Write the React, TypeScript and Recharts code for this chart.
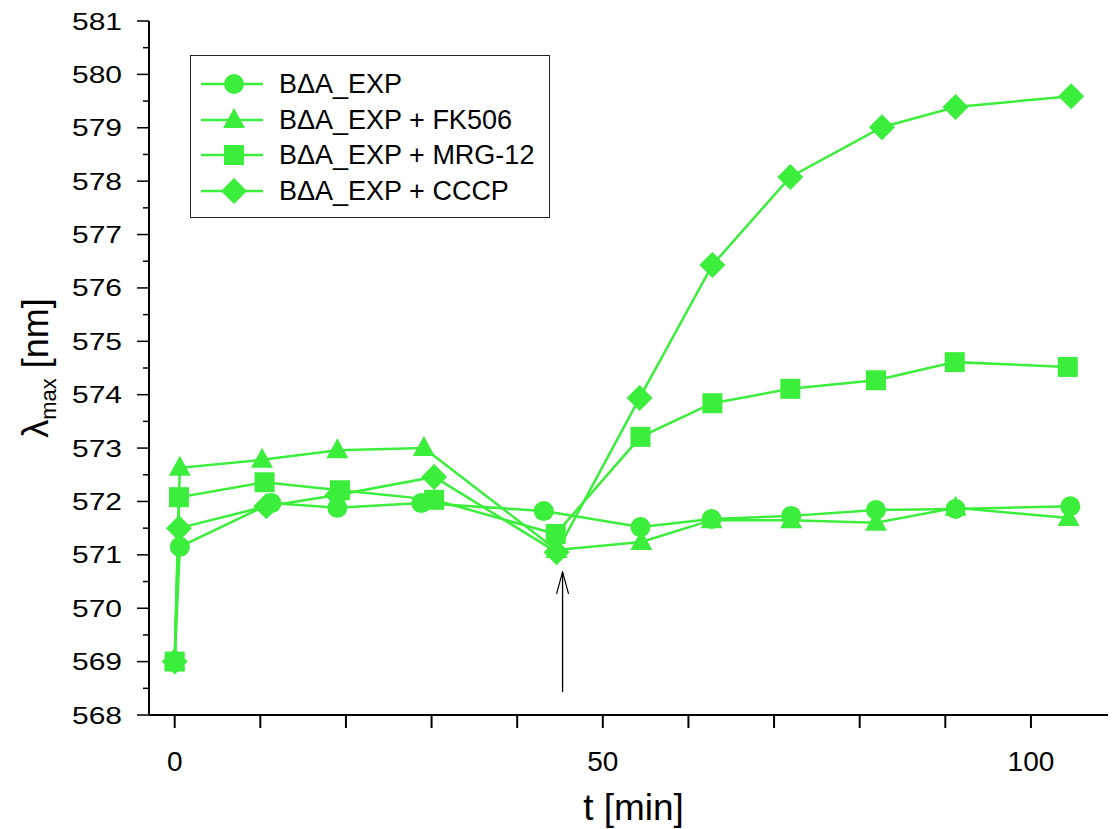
import { LineChart, Line, XAxis, YAxis, ReferenceLine, Legend } from 'recharts';

const GREEN = '#3cee3c';

// time points (min) per series
const tExp = [0, 0.6, 11.3, 19.0, 28.8, 43.1, 54.4, 62.7, 72.0, 81.9, 91.2, 104.6];
const tFk = [0, 0.6, 10.2, 19.0, 29.1, 44.6, 54.5, 62.7, 72.0, 81.9, 91.2, 104.4];
const tMrg = [0, 0.5, 10.5, 19.3, 30.3, 44.5, 54.4, 62.8, 71.9, 81.9, 91.1, 104.3];
const tCccp = [0, 0.5, 10.7, 19.0, 30.3, 44.6, 54.3, 62.8, 71.9, 82.6, 91.2, 104.7];

// lambda max (nm)
const expVals = [569.0, 571.15, 571.97, 571.88, 571.97, 571.82, 571.52, 571.67, 571.73, 571.84, 571.86, 571.91];
const fkVals = [569.0, 572.63, 572.78, 572.96, 573.0, 571.09, 571.24, 571.65, 571.65, 571.6, 571.88, 571.69];
const mrgVals = [569.0, 572.08, 572.36, 572.21, 572.03, 571.39, 573.21, 573.84, 574.11, 574.27, 574.61, 574.52];
const cccpVals = [569.0, 571.5, 571.91, 572.12, 572.46, 571.05, 573.94, 576.43, 578.08, 579.01, 579.39, 579.59];

const seriesNames = ['B\u0394A_EXP', 'B\u0394A_EXP + FK506', 'B\u0394A_EXP + MRG-12', 'B\u0394A_EXP + CCCP'];
const seriesShapes = ['circle', 'triangle', 'square', 'diamond'];

const xTicks = [0, 10, 20, 30, 40, 50, 60, 70, 80, 90, 100];
const yTicks = Array.from({ length: 27 }, (_, i) => 568 + i * 0.5);

// arrow marking addition time
const arrowT = 45.3;
const arrowFrom = 568.43;
const arrowTo = 570.68;

const toRows = (ts: number[], vs: number[]) => ts.map((t, i) => ({ t, v: vs[i] }));

const seriesData = [
  toRows(tExp, expVals),
  toRows(tFk, fkVals),
  toRows(tMrg, mrgVals),
  toRows(tCccp, cccpVals),
];

const FONT = '"Liberation Sans", Arial, sans-serif';

function MarkerShape({ shape, cx, cy }: { shape: string; cx: number; cy: number }) {
  if (shape === 'circle') return <circle cx={cx} cy={cy} r={10} fill={GREEN} />;
  if (shape === 'square') return <rect x={cx - 10} y={cy - 10} width={20} height={20} fill={GREEN} />;
  if (shape === 'triangle')
    return <polygon points={`${cx},${cy - 12} ${cx + 11},${cy + 8} ${cx - 11},${cy + 8}`} fill={GREEN} />;
  return <polygon points={`${cx},${cy - 13} ${cx + 13},${cy} ${cx},${cy + 13} ${cx - 13},${cy}`} fill={GREEN} />;
}

const YTick = (props: any) => {
  const { x, y, payload } = props;
  const major = Number.isInteger(payload.value);
  return (
    <g>
      <line x1={x} x2={x - (major ? 12 : 6)} y1={y} y2={y} stroke="#000" strokeWidth={1.5} />
      {major && (
        <text
          x={x - 27}
          y={y + 8.5}
          textAnchor="end"
          fontSize={24}
          fontFamily={FONT}
          fill="#000"
          textLength={50}
          lengthAdjust="spacingAndGlyphs"
        >
          {payload.value}
        </text>
      )}
    </g>
  );
};

const LegendBox = () => (
  <div
    style={{
      width: 360,
      height: 163,
      border: '1.5px solid #222',
      background: '#fff',
      boxSizing: 'border-box',
      position: 'relative',
      fontFamily: FONT,
    }}
  >
    {seriesNames.map((name, i) => (
      <div key={name} style={{ position: 'absolute', left: 0, top: 10 + i * 35.7, height: 36, width: 360 }}>
        <svg width={80} height={36} style={{ position: 'absolute', left: 0, top: 0 }}>
          <line x1={10} x2={72} y1={18} y2={18} stroke={GREEN} strokeWidth={2.5} />
          <MarkerShape shape={seriesShapes[i]} cx={43} cy={18} />
        </svg>
        <span
          style={{
            position: 'absolute',
            left: 88,
            top: 0,
            lineHeight: '36px',
            fontSize: 27,
            color: '#000',
            whiteSpace: 'nowrap',
          }}
        >
          {name}
        </span>
      </div>
    ))}
  </div>
);

export default function App() {
  return (
    <div style={{ position: 'absolute', left: 0, top: 0, background: '#fff' }}>
      <LineChart width={1118} height={829} margin={{ top: 21, right: 10, bottom: 0, left: 0 }}>
        <defs>
          <marker id="arrowHead" viewBox="0 0 14 24" refX={7} refY={1} markerWidth={14} markerHeight={24} markerUnits="userSpaceOnUse" orient="0">
            <path d="M1,23 L7,1 L13,23" fill="none" stroke="#000" strokeWidth={1.2} />
          </marker>
        </defs>
        <XAxis
          type="number"
          dataKey="t"
          domain={[-3, 109]}
          allowDataOverflow
          ticks={xTicks}
          tickFormatter={(v: number) => (v % 50 === 0 ? String(v) : '')}
          height={114}
          tickSize={13}
          tickMargin={23}
          stroke="#000"
          strokeWidth={2}
          tick={{ fill: '#000', fontSize: 28, fontFamily: FONT }}
          label={({ viewBox }: any) => (
            <text
              x={viewBox.x + viewBox.width / 2 + 5}
              y={820}
              textAnchor="middle"
              fontSize={37}
              fontFamily={FONT}
              fill="#000"
            >
              t [min]
            </text>
          )}
        />
        <YAxis
          type="number"
          domain={[568, 581]}
          allowDataOverflow
          ticks={yTicks}
          interval={0}
          width={149}
          tickSize={0}
          tickMargin={0}
          tickLine={false}
          stroke="#000"
          strokeWidth={2}
          tick={<YTick />}
          label={({ viewBox }: any) => {
            const cx = 36;
            const cy = viewBox.y + viewBox.height / 2;
            return (
              <text
                x={cx}
                y={cy}
                transform={`rotate(-90, ${cx}, ${cy})`}
                textAnchor="middle"
                fontSize={36}
                fontFamily={FONT}
                fill="#000"
                dy={12}
              >
                {'\u03bb'}
                <tspan fontSize={22} dy={8}>max</tspan>
                <tspan dy={-8}> [nm]</tspan>
              </text>
            );
          }}
        />
        <Legend
          layout="vertical"
          align="center"
          verticalAlign="middle"
          wrapperStyle={{ left: 190, top: 55, width: 360, height: 163 }}
          content={() => <LegendBox />}
        />
        <ReferenceLine
          segment={[
            { x: arrowT, y: arrowFrom },
            { x: arrowT, y: arrowTo },
          ]}
          stroke="#000"
          strokeWidth={1.3}
          markerEnd="url(#arrowHead)"
          ifOverflow="visible"
        />
        {seriesData.map((rows, i) => (
          <Line
            key={seriesNames[i]}
            data={rows}
            dataKey="v"
            name={seriesNames[i]}
            type="linear"
            stroke={GREEN}
            strokeWidth={2.5}
            isAnimationActive={false}
            dot={(p: any) => <MarkerShape key={`${i}-${p.index}`} shape={seriesShapes[i]} cx={p.cx} cy={p.cy} />}
            activeDot={false}
          />
        ))}
      </LineChart>
    </div>
  );
}
